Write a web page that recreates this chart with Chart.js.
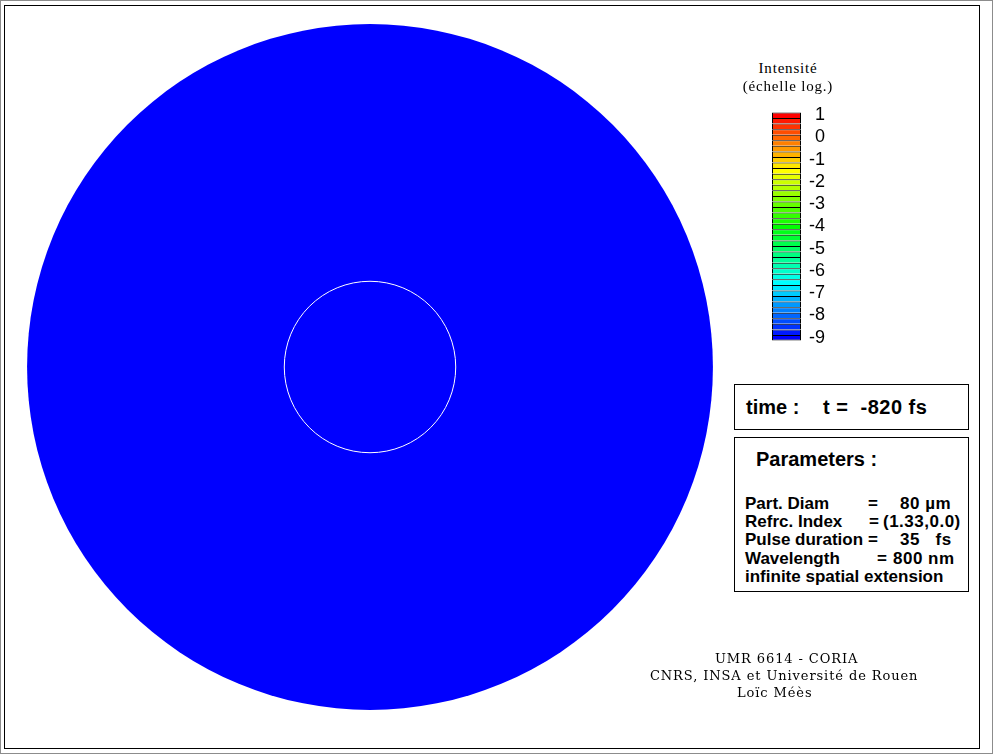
<!DOCTYPE html>
<html>
<head>
<meta charset="utf-8">
<script src="https://cdn.jsdelivr.net/npm/chart.js"></script>
<style>
  html, body { margin: 0; padding: 0; background: #fff; }
  body { width: 993px; height: 755px; position: relative; overflow: hidden; }
  .abs { position: absolute; white-space: pre; line-height: 1; color: #000; }
  .cadre-ext { left: 0; top: 0; width: 991px; height: 752px; border: 1px solid #8c8c8c; }
  .cadre { left: 4px; top: 5px; width: 974px; height: 742px; border: 1px solid #000; }
  .boite { border: 1px solid #000; }
  .sans { font-family: "Liberation Sans", Arial, sans-serif; font-weight: bold; }
  .serif { font-family: "Liberation Serif", "Times New Roman", serif; font-size: 15px; letter-spacing: 0.8px; }
  .credit { font-family: "DejaVu Serif", serif; font-size: 13px; letter-spacing: 0.9px; }
  #disque { position: absolute; left: 20px; top: 17px; }
  #barre { position: absolute; left: 772px; top: 93px; }
</style>
</head>
<body>
<div class="abs cadre-ext"></div>
<div class="abs cadre"></div>

<canvas id="disque" width="700" height="700"></canvas>
<canvas id="barre" width="53" height="267"></canvas>

<div class="abs serif" style="left:738px;top:61px;width:100px;text-align:center;">Intensité</div>
<div class="abs serif" style="left:738px;top:79px;width:100px;text-align:center;">(échelle log.)</div>

<div class="abs boite" style="left:734px;top:384px;width:233px;height:44px;"></div>
<div class="abs sans" style="left:746px;top:397px;font-size:20px;">time :</div>
<div class="abs sans" style="left:823px;top:397px;font-size:20px;letter-spacing:0.5px;">t =  -820 fs</div>

<div class="abs boite" style="left:734px;top:437px;width:233px;height:153px;"></div>
<div class="abs sans" style="left:756px;top:449px;font-size:20px;">Parameters :</div>
<div id="params"></div>

<div class="abs credit" style="left:715px;top:652px;">UMR 6614 - CORIA</div>
<div class="abs credit" style="left:650px;top:669px;">CNRS, INSA et Université de Rouen</div>
<div class="abs credit" style="left:737px;top:686px;">Loïc Méès</div>

<script>
// rayons en micrometres : domaine de calcul et particule (diametre 80 µm)
const rayonDomaine = [160];
const rayonParticule = [40];
const centre = [{ x: 0, y: 0 }];

// niveaux de la barre de couleur (log10 de l'intensite), pas de 0.25
const niveaux = [-9, -8.75, -8.5, -8.25, -8, -7.75, -7.5, -7.25, -7, -6.75, -6.5, -6.25,
  -6, -5.75, -5.5, -5.25, -5, -4.75, -4.5, -4.25, -4, -3.75, -3.5, -3.25, -3, -2.75,
  -2.5, -2.25, -2, -1.75, -1.5, -1.25, -1, -0.75, -0.5, -0.25, 0, 0.25, 0.5, 0.75, 1];
const ticksBarre = [1, 0, -1, -2, -3, -4, -5, -6, -7, -8, -9];

// lignes du cadre "Parameters"
const paramNoms = ['Part. Diam', 'Refrc. Index', 'Pulse duration', 'Wavelength', 'infinite spatial extension'];
const paramEgal = ['=', '=', '=', '=', ''];
const paramValeurs = ['80 µm', '(1.33,0.0)', '35   fs', '800 nm', ''];

const demiPas = 0.125;

function couleur(v) {
  let h = (1 - v) * 24;
  h = Math.max(0, Math.min(240, h));
  return `hsl(${h}, 100%, 50%)`;
}

// texte des parametres
const paramsDiv = document.getElementById('params');
const yBase = [495, 513, 531, 550, 568];
const xEgal = [868, 869, 868, 877, 0];
const xVal = [900, 883, 900, 893, 0];
let html = '';
const st = 'font-size:17px;';
paramNoms.forEach((n, i) => {
  html += `<div class="abs sans" style="left:745px;top:${yBase[i]}px;${st}">${n}</div>`;
  if (paramEgal[i]) html += `<div class="abs sans" style="left:${xEgal[i]}px;top:${yBase[i]}px;${st}">${paramEgal[i]}</div>`;
  if (paramValeurs[i]) html += `<div class="abs sans" style="left:${xVal[i]}px;top:${yBase[i]}px;${st}letter-spacing:0.5px;">${paramValeurs[i]}</div>`;
});
paramsDiv.innerHTML = html;

// disque : domaine bleu et contour blanc de la particule
const cerclesPlugin = {
  id: 'cercles',
  beforeDatasetsDraw(chart) {
    const { ctx, scales: { x, y } } = chart;
    const cx = x.getPixelForValue(centre[0].x);
    const cy = y.getPixelForValue(centre[0].y);
    const rD = x.getPixelForValue(rayonDomaine[0]) - cx;
    const rP = x.getPixelForValue(rayonParticule[0]) - cx;
    ctx.save();
    ctx.fillStyle = '#0000ff';
    ctx.beginPath();
    ctx.arc(cx, cy, rD, 0, Math.PI * 2);
    ctx.fill();
    ctx.strokeStyle = '#ffffff';
    ctx.lineWidth = 1;
    ctx.beginPath();
    ctx.arc(cx, cy, rP, 0, Math.PI * 2);
    ctx.stroke();
    ctx.restore();
  }
};

new Chart(document.getElementById('disque'), {
  type: 'scatter',
  data: { datasets: [{ data: centre, pointRadius: 0 }] },
  options: {
    responsive: false,
    animation: false,
    layout: { padding: 0 },
    plugins: { legend: { display: false }, tooltip: { enabled: false } },
    scales: {
      x: { type: 'linear', min: -163.3, max: 163.3, display: false },
      y: { type: 'linear', min: -163.3, max: 163.3, display: false }
    }
  },
  plugins: [cerclesPlugin]
});

// barre de couleur
const bandes = niveaux.map((v, i) => ({
  data: [[v - demiPas, v + demiPas]],
  backgroundColor: couleur(v),
  borderColor: '#000',
  borderWidth: { top: 1, left: 1, right: 1, bottom: i === 0 ? 1 : 0 },
  borderSkipped: false,
  inflateAmount: 0,
  grouped: false,
  barPercentage: 1,
  categoryPercentage: 1
}));

new Chart(document.getElementById('barre'), {
  type: 'bar',
  data: { labels: [''], datasets: bandes },
  options: {
    responsive: false,
    animation: false,
    layout: { padding: 0 },
    plugins: { legend: { display: false }, tooltip: { enabled: false } },
    scales: {
      x: { display: false },
      y: {
        position: 'right',
        min: -10,
        max: 2,
        grid: { display: false },
        border: { display: false },
        afterBuildTicks: s => { s.ticks = ticksBarre.map(v => ({ value: v })); },
        afterFit: s => { s.width = 24; s.paddingTop = 0; s.paddingBottom = 0; },
        ticks: {
          autoSkip: false,
          padding: 7,
          crossAlign: 'far',
          color: '#000',
          font: { family: '"Liberation Sans", Arial, sans-serif', size: 18 }
        }
      }
    }
  }
});
</script>
</body>
</html>
